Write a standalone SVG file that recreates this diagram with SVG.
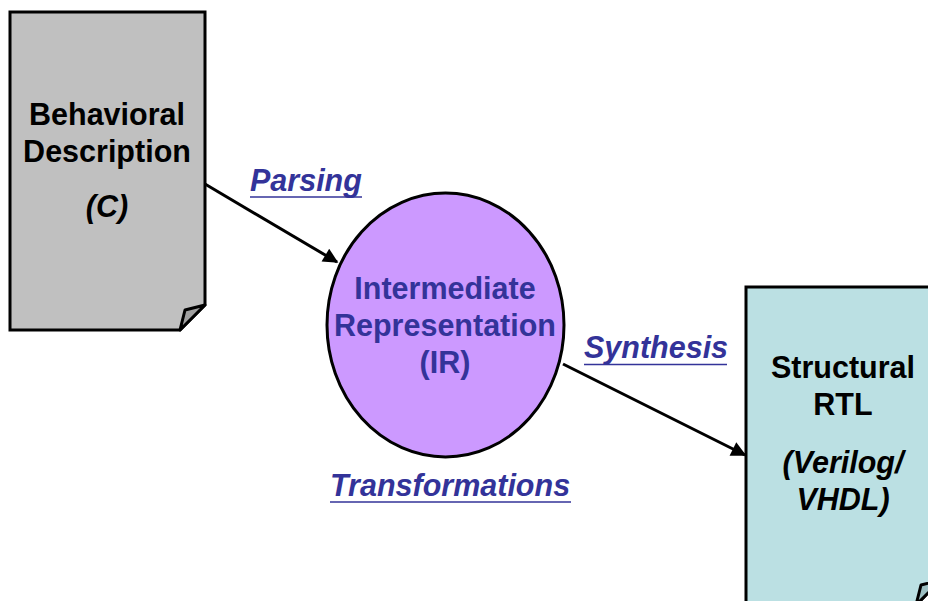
<svg xmlns="http://www.w3.org/2000/svg" width="928" height="601" viewBox="0 0 928 601">
  <defs>
    <marker id="arrow" viewBox="0 0 10 10" refX="9" refY="5" markerWidth="5.5" markerHeight="5" markerUnits="strokeWidth" orient="auto">
      <path d="M0,0 L10,5 L0,10 Z" fill="#000"/>
    </marker>
    <style>
      .doc { stroke: #000; stroke-width: 3; stroke-linejoin: miter; }
      .fold { stroke: #000; stroke-width: 3; stroke-linejoin: round; }
      .node-text { font-family: "Liberation Sans", Arial, sans-serif; font-size: 30.5px; font-weight: bold; text-anchor: middle; fill: #000; }
      .ir-text { fill: #333399; }
      .ital { font-style: italic; }
      .label { font-family: "Liberation Sans", Arial, sans-serif; font-size: 30.5px; font-weight: bold; font-style: italic; fill: #333399; }
      .uline { stroke: #333399; stroke-width: 1.5; }
      .edge { stroke: #000; stroke-width: 3; fill: none; }
    </style>
  </defs>

  <rect width="928" height="601" fill="#fff"/>

  <!-- Source document -->
  <g id="behavioral">
    <path class="doc" d="M10,12 H205 V305 L180,330 H10 Z" fill="#c0c0c0"/>
    <path class="fold" d="M180,330 L185,310 L205,305 Z" fill="#a0a0a0"/>
    <text class="node-text" x="107" y="125">Behavioral</text>
    <text class="node-text" x="107" y="162">Description</text>
    <text class="node-text ital" x="107" y="217">(C)</text>
  </g>

  <!-- Intermediate representation -->
  <g id="ir">
    <ellipse cx="445.5" cy="325" rx="118.5" ry="132" fill="#cc99ff" stroke="#000" stroke-width="3"/>
    <text class="node-text ir-text" x="445" y="299">Intermediate</text>
    <text class="node-text ir-text" x="445" y="336">Representation</text>
    <text class="node-text ir-text" x="445" y="373">(IR)</text>
  </g>

  <!-- Target document -->
  <g id="rtl">
    <path class="doc" d="M746,287 H941 V580 L916,605 H746 Z" fill="#bbe0e3"/>
    <path class="fold" d="M916,605 L921,585 L941,580 Z" fill="#9cbfc2"/>
    <text class="node-text" x="843" y="378">Structural</text>
    <text class="node-text" x="843" y="415">RTL</text>
    <text class="node-text ital" x="843" y="473">(Verilog/</text>
    <text class="node-text ital" x="843" y="510">VHDL)</text>
  </g>

  <!-- Connectors -->
  <g id="edges">
    <line class="edge" x1="205" y1="184" x2="337" y2="262" marker-end="url(#arrow)"/>
    <line class="edge" x1="563" y1="364" x2="745" y2="455" marker-end="url(#arrow)"/>
  </g>

  <!-- Step labels -->
  <g id="labels">
    <text class="label" x="250" y="191">Parsing</text>
    <line class="uline" x1="250" y1="197" x2="362" y2="197"/>
    <text class="label" x="584" y="358">Synthesis</text>
    <line class="uline" x1="584" y1="364.5" x2="727" y2="364.5"/>
    <text class="label" x="330" y="496">Transformations</text>
    <line class="uline" x1="330" y1="502" x2="571" y2="502"/>
  </g>
</svg>
